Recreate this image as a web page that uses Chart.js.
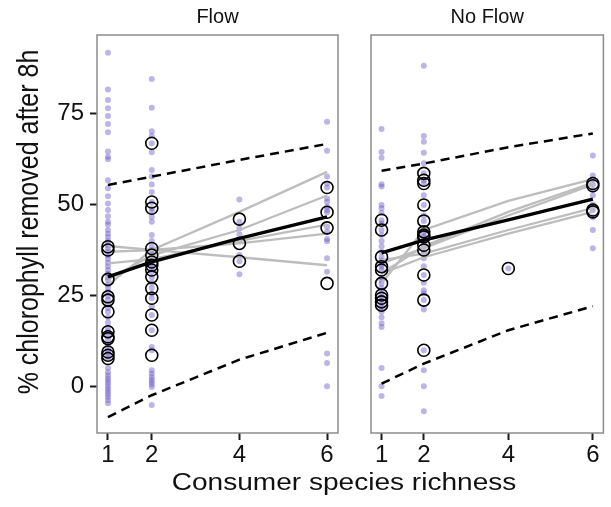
<!DOCTYPE html>
<html>
<head>
<meta charset="utf-8">
<script src="https://cdn.jsdelivr.net/npm/chart.js@4.4.0/dist/chart.umd.min.js"></script>
<style>
html, body { margin: 0; padding: 0; background: #fff; overflow: hidden; }
#wrap { position: relative; width: 611px; height: 507px; }
canvas { position: absolute; top: 0; }
#flow { left: 0; }
#noflow { left: 345px; }
</style>
</head>
<body>
<div id="wrap">
  <canvas id="flow" width="611" height="507"></canvas>
  <canvas id="noflow" width="266" height="507"></canvas>
</div>
<script>
const richness = [1, 2, 4, 6];
const yTicks = [0, 25, 50, 75];

// Flow panel - single replicates (purple)
const flowRaw1 = [91.8, 81.7, 78.8, 76.5, 74.4, 72.2, 69.9, 64.6, 63.2, 62.5, 56.7, 54.5, 52.3, 50.3, 48.5, 46.8, 45.3, 44.5, 43.0, 42.0, 41.1, 40.0, 38.8, 38.0, 37.0, 36.0, 35.0, 34.0, 33.0, 32.0, 31.0, 30.0, 29.2, 28.0, 27.0, 26.0, 24.8, 23.8, 22.5, 21.5, 20.5, 19.0, 17.5, 16.0, 15.0, 13.8, 13.0, 11.5, 10.0, 9.2, 8.4, 7.6, 5.0, 3.8, 3.0, 2.2, 1.5, 0.8, 0.0, -0.8, -1.5, -2.2, -3.0, -3.8, -4.7];
const flowRaw2 = [84.6, 76.7, 70.2, 68.9, 66.9, 64.4, 59.5, 57.7, 55.5, 53.5, 50.7, 49.0, 48.0, 46.6, 45.3, 41.6, 40.0, 38.4, 37.5, 36.5, 35.5, 34.5, 33.5, 32.5, 31.5, 30.0, 28.5, 27.0, 25.5, 24.2, 22.0, 19.6, 15.4, 10.8, 9.9, 4.4, 3.5, 2.6, 1.8, 1.2, 0.5, -0.2, -5.2];
const flowRaw4 = [51.4, 45.3, 43.4, 41.8, 39.9, 36.1, 34.4, 30.8];
const flowRaw6 = [72.8, 64.8, 57.7, 55.8, 54.7, 51.7, 50.8, 49.4, 48.5, 47.9, 43.9, 42.5, 40.5, 39.9, 35.2, 31.5, 9.0, 6.4, 0.0];
// Flow panel - means (open circles)
const flowMean1 = [38.4, 37.5, 29.4, 24.6, 23.7, 20.5, 15.0, 13.6, 13.1, 9.4, 8.5, 7.6];
const flowMean2 = [66.9, 50.7, 49.0, 37.9, 36.1, 34.2, 33.3, 32.0, 30.1, 26.9, 24.2, 19.6, 15.4, 8.5];
const flowMean4 = [46.0, 39.3, 34.4];
const flowMean6 = [54.7, 47.9, 43.6, 28.3];
// Flow panel - fits at richness 1, 2, 4, 6
const flowFit = [30.1, 34.2, 40.7, 46.6];
const flowUpper = [55.4, 57.7, 62.3, 66.7];
const flowLower = [-8.5, -2.5, 7.3, 14.7];
const flowGroup1 = [27.8, 37.5, 48.0, 59.0];
const flowGroup2 = [29.4, 36.0, 43.0, 52.5];
const flowGroup3 = [33.8, 35.0, 40.0, 44.5];
const flowGroup4 = [37.0, 37.5, 39.3, 42.0];
const flowGroup5 = [38.6, 37.5, 35.5, 33.3];

// No Flow panel
const noFlowRaw1 = [70.8, 64.5, 62.9, 55.6, 55.0, 49.9, 49.0, 47.7, 45.7, 44.8, 43.0, 41.6, 40.0, 38.5, 37.0, 35.6, 34.5, 33.5, 32.9, 32.0, 30.0, 29.0, 28.3, 27.0, 26.0, 25.1, 24.2, 23.2, 22.3, 21.5, 20.5, 19.0, 17.3, 16.3, 5.0, 0.0, -2.7];
const noFlowRaw2 = [88.2, 68.9, 67.3, 64.3, 61.4, 58.6, 56.7, 55.8, 52.6, 49.9, 47.0, 45.5, 43.5, 42.5, 41.6, 41.1, 40.0, 38.8, 37.5, 36.5, 35.2, 33.0, 30.6, 28.5, 26.4, 25.5, 23.7, 21.1, 9.9, 4.4, 0.0, -6.9];
const noFlowRaw4 = [32.4];
const noFlowRaw6 = [63.5, 58.0, 57.0, 55.5, 54.0, 52.5, 50.0, 48.5, 46.5, 43.0, 38.0];
const noFlowMean1 = [45.7, 43.0, 35.6, 32.9, 32.0, 28.3, 25.1, 24.2, 23.2, 22.3];
const noFlowMean2 = [58.6, 56.7, 55.8, 49.9, 45.5, 42.5, 41.6, 41.1, 38.8, 37.5, 30.6, 23.7, 9.9];
const noFlowMean4 = [32.4];
const noFlowMean6 = [55.8, 55.2, 48.5, 48.0];
const noFlowFit = [36.7, 40.2, 45.8, 51.5];
const noFlowUpper = [59.3, 61.3, 65.8, 69.6];
const noFlowLower = [0.7, 6.2, 15.4, 22.0];
const noFlowGroup1 = [28.3, 43.0, 51.0, 57.0];
const noFlowGroup2 = [31.0, 38.5, 48.0, 56.0];
const noFlowGroup3 = [33.8, 38.0, 47.0, 55.5];
const noFlowGroup4 = [34.7, 36.5, 43.0, 49.0];
const noFlowGroup5 = [31.0, 35.5, 42.0, 48.0];

const FONT = "'Liberation Sans', Arial, sans-serif";

function pts(cols) {
  const out = [];
  cols.forEach((arr, i) => arr.forEach(v => out.push({ x: richness[i], y: v })));
  return out;
}
function curve(arr) {
  return richness.map((r, i) => ({ x: r, y: arr[i] }));
}

function buildDatasets(raw, means, fit, upper, lower, groups) {
  const sets = [];
  sets.push({
    data: pts(raw), pointRadius: 3, pointBorderWidth: 0,
    pointBackgroundColor: 'rgba(106, 90, 205, 0.45)', showLine: false, order: 5
  });
  groups.forEach(g => sets.push({
    data: curve(g), showLine: true, borderColor: '#bdbdbd', borderWidth: 2.3,
    pointRadius: 0, order: 4
  }));
  sets.push({
    data: curve(fit), showLine: true, borderColor: '#000', borderWidth: 3.4,
    pointRadius: 0, order: 3
  });
  [upper, lower].forEach(d => sets.push({
    data: curve(d), showLine: true, borderColor: '#000', borderWidth: 2.5,
    borderDash: [9, 6], pointRadius: 0, order: 2
  }));
  sets.push({
    data: pts(means), pointRadius: 6, pointBorderWidth: 1.6,
    pointBorderColor: '#000', pointBackgroundColor: 'rgba(0,0,0,0)',
    showLine: false, order: 1
  });
  return sets;
}

const panelBorder = {
  id: 'panelBorder',
  afterDatasetsDraw(chart) {
    const { ctx, chartArea: a } = chart;
    ctx.save();
    ctx.strokeStyle = '#8c8c8c';
    ctx.lineWidth = 1.5;
    ctx.strokeRect(a.left, a.top, a.right - a.left, a.bottom - a.top);
    ctx.restore();
  }
};

// axis titles, shared x title spans both panels
const axisTitles = {
  id: 'axisTitles',
  afterDraw(chart) {
    const ctx = chart.ctx;
    ctx.save();
    ctx.fillStyle = '#111';
    ctx.textAlign = 'center';
    ctx.textBaseline = 'alphabetic';
    ctx.translate(344, 490);
    ctx.scale(1.22, 1);
    ctx.font = '23px ' + FONT;
    ctx.fillText('Consumer species richness', 0, 0);
    ctx.restore();

    ctx.save();
    ctx.fillStyle = '#111';
    ctx.textAlign = 'center';
    ctx.textBaseline = 'middle';
    ctx.translate(30, 222);
    ctx.scale(1.2, 1);
    ctx.rotate(-Math.PI / 2);
    ctx.font = '25px ' + FONT;
    ctx.fillText('% chlorophyll removed after 8h', 0, 0);
    ctx.restore();
  }
};

function xScale() {
  return {
    type: 'linear', min: 0.75, max: 6.25,
    afterBuildTicks: s => { s.ticks = richness.map(v => ({ value: v })); },
    afterFit: s => { s.height = 74; },
    grid: { drawOnChartArea: false, tickLength: 7, tickColor: '#1a1a1a', tickWidth: 2 },
    border: { display: false },
    ticks: { font: { size: 24, family: FONT }, color: '#111', padding: 1 }
  };
}

function makeChart(id, title, datasets, padding, showY) {
  const yAxis = {
    type: 'linear', min: -12.9, max: 96.7, display: showY,
    afterBuildTicks: s => { s.ticks = yTicks.map(v => ({ value: v })); },
    grid: { drawOnChartArea: false, tickLength: 7, tickColor: '#1a1a1a', tickWidth: 2 },
    border: { display: false },
    ticks: { font: { size: 24, family: FONT }, color: '#111', padding: 6 }
  };
  if (showY) yAxis.afterFit = s => { s.width = 97; };
  return new Chart(document.getElementById(id), {
    type: 'scatter',
    data: { datasets: datasets },
    options: {
      responsive: false,
      animation: false,
      layout: { padding: padding },
      plugins: {
        legend: { display: false },
        tooltip: { enabled: false },
        title: {
          display: true, text: title, fullSize: false, color: '#111',
          font: { size: 20, family: FONT, weight: 'normal' },
          padding: { top: 5, bottom: 6 }
        }
      },
      scales: { x: xScale(), y: yAxis }
    },
    plugins: showY ? [panelBorder, axisTitles] : [panelBorder]
  });
}

makeChart('flow', 'Flow',
  buildDatasets([flowRaw1, flowRaw2, flowRaw4, flowRaw6],
    [flowMean1, flowMean2, flowMean4, flowMean6],
    flowFit, flowUpper, flowLower,
    [flowGroup1, flowGroup2, flowGroup3, flowGroup4, flowGroup5]),
  { left: 0, right: 273, top: 0, bottom: 0 }, true);

makeChart('noflow', 'No Flow',
  buildDatasets([noFlowRaw1, noFlowRaw2, noFlowRaw4, noFlowRaw6],
    [noFlowMean1, noFlowMean2, noFlowMean4, noFlowMean6],
    noFlowFit, noFlowUpper, noFlowLower,
    [noFlowGroup1, noFlowGroup2, noFlowGroup3, noFlowGroup4, noFlowGroup5]),
  { left: 26, right: 1, top: 0, bottom: 0 }, false);
</script>
</body>
</html>
